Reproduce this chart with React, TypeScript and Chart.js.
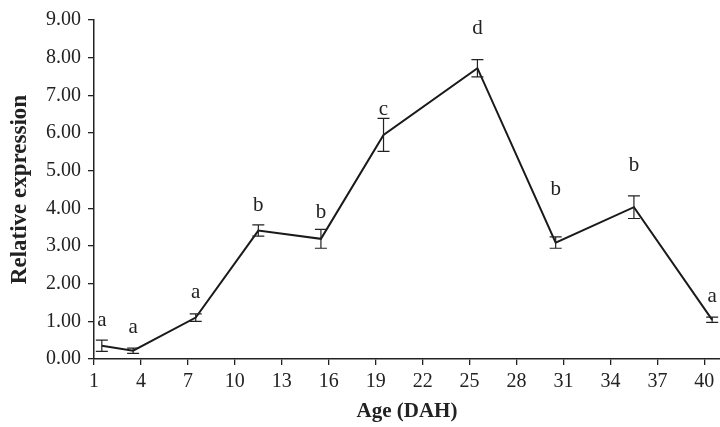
import React, { useEffect, useRef } from "react";
import { Chart, registerables } from "chart.js";

Chart.register(...registerables);

const ages = [1.5, 3.5, 7.5, 11.5, 15.5, 19.5, 25.5, 30.5, 35.5, 40.5];
const expression = [0.35, 0.22, 1.1, 3.41, 3.19, 5.95, 7.72, 3.09, 4.03, 1.04];
const errors = [0.15, 0.07, 0.1, 0.15, 0.25, 0.44, 0.23, 0.15, 0.3, 0.07];
const groupLetters = ["a", "a", "a", "b", "b", "c", "d", "b", "b", "a"];
const letterBaselines = [0.88, 0.7, 1.61, 3.94, 3.74, 6.48, 8.64, 4.35, 5.0, 1.52];
const xTickValues = [1, 4, 7, 10, 13, 16, 19, 22, 25, 28, 31, 34, 37, 40];
const yTickValues = [0, 1, 2, 3, 4, 5, 6, 7, 8, 9];

const FONT = "'Liberation Serif', 'Times New Roman', serif";
const INK = "#222";

const errorBarPlugin = {
  id: "errorBars",
  afterDatasetsDraw(chart: any) {
    const { ctx, scales } = chart;
    const xs = scales.x;
    const ys = scales.y;
    ctx.save();
    ctx.strokeStyle = INK;
    ctx.lineWidth = 1.2;
    ages.forEach((a, i) => {
      const x = xs.getPixelForValue(a);
      const yt = ys.getPixelForValue(expression[i] + errors[i]);
      const yb = ys.getPixelForValue(expression[i] - errors[i]);
      ctx.beginPath();
      ctx.moveTo(x, yt);
      ctx.lineTo(x, yb);
      ctx.moveTo(x - 6, yt);
      ctx.lineTo(x + 6, yt);
      ctx.moveTo(x - 6, yb);
      ctx.lineTo(x + 6, yb);
      ctx.stroke();
    });
    ctx.fillStyle = INK;
    ctx.font = `21px ${FONT}`;
    ctx.textAlign = "center";
    ctx.textBaseline = "alphabetic";
    ages.forEach((a, i) => {
      const x = xs.getPixelForValue(a);
      const y = ys.getPixelForValue(letterBaselines[i]);
      ctx.fillText(groupLetters[i], x, y);
    });
    ctx.restore();
  },
};

export default function App() {
  const canvasRef = useRef<HTMLCanvasElement | null>(null);

  useEffect(() => {
    if (!canvasRef.current) return;
    const chart = new Chart(canvasRef.current, {
      type: "line",
      data: {
        datasets: [
          {
            data: ages.map((a, i) => ({ x: a, y: expression[i] })),
            borderColor: "#1a1a1a",
            borderWidth: 2,
            pointRadius: 0,
            tension: 0,
            fill: false,
          },
        ],
      },
      options: {
        animation: false,
        responsive: true,
        maintainAspectRatio: false,
        layout: { padding: { top: 20, right: 0, left: 0, bottom: 0 } },
        plugins: { legend: { display: false }, tooltip: { enabled: false } },
        scales: {
          x: {
            type: "linear",
            min: 1,
            max: 41,
            afterBuildTicks: (scale: any) => {
              scale.ticks = xTickValues.map((v) => ({ value: v }));
            },
            afterFit: (scale: any) => {
              scale.height = 68;
            },
            ticks: {
              color: INK,
              font: { family: FONT, size: 20 },
              padding: 5,
              maxRotation: 0,
              autoSkip: false,
            },
            grid: {
              drawOnChartArea: false,
              drawTicks: true,
              tickLength: 6,
              color: INK,
              lineWidth: 1.3,
            },
            border: { display: true, color: INK, width: 1.5 },
            title: {
              display: true,
              text: "Age (DAH)",
              color: INK,
              font: { family: FONT, size: 21, weight: "bold" },
              padding: { top: 0, bottom: 3 },
            },
          },
          y: {
            type: "linear",
            min: 0,
            max: 9,
            afterBuildTicks: (scale: any) => {
              scale.ticks = yTickValues.map((v) => ({ value: v }));
            },
            afterFit: (scale: any) => {
              scale.width = 94;
            },
            ticks: {
              color: INK,
              font: { family: FONT, size: 20 },
              padding: 7,
              callback: (v: any) => Number(v).toFixed(2),
            },
            grid: {
              drawOnChartArea: false,
              drawTicks: true,
              tickLength: 6,
              color: INK,
              lineWidth: 1.3,
            },
            border: { display: true, color: INK, width: 1.5 },
            title: {
              display: true,
              text: "Relative expression",
              color: INK,
              font: { family: FONT, size: 23, weight: "bold" },
              padding: { top: 6, bottom: 0 },
            },
          },
        },
      },
      plugins: [errorBarPlugin],
    });
    return () => chart.destroy();
  }, []);

  return (
    <div style={{ position: "fixed", left: 0, top: 0, width: 720, height: 427, background: "#fff" }}>
      <canvas ref={canvasRef} />
    </div>
  );
}
